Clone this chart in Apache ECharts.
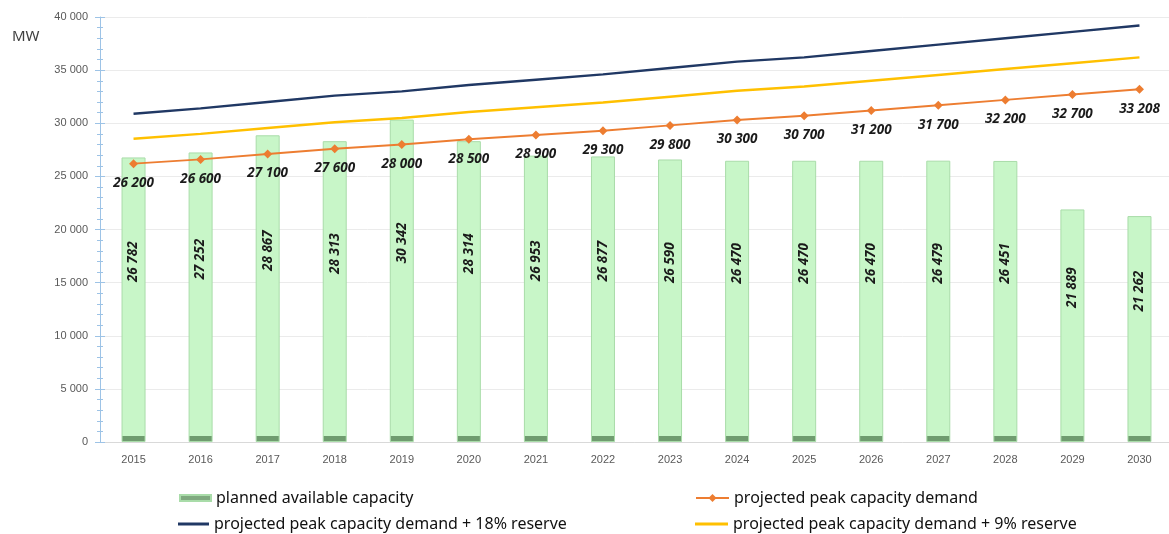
<!DOCTYPE html>
<html>
<head>
<meta charset="utf-8">
<script src="https://cdn.jsdelivr.net/npm/echarts@6/dist/echarts.min.js"></script>
<style>
  html, body { margin: 0; padding: 0; background: #ffffff; }
  #chart { width: 1169px; height: 534px; }
</style>
</head>
<body>
<div id="chart"></div>
<script>
// Years on the category axis
const years = ['2015', '2016', '2017', '2018', '2019', '2020', '2021', '2022',
               '2023', '2024', '2025', '2026', '2027', '2028', '2029', '2030'];

// Planned available capacity, MW
const availableCapacity = [26782, 27252, 28867, 28313, 30342, 28314, 26953, 26877,
                           26590, 26470, 26470, 26470, 26479, 26451, 21889, 21262];

// Projected peak capacity demand, MW
const peakDemand = [26200, 26600, 27100, 27600, 28000, 28500, 28900, 29300,
                    29800, 30300, 30700, 31200, 31700, 32200, 32700, 33208];

// Peak demand with 9% reserve, MW
const demand9 = [28550, 29000, 29550, 30100, 30500, 31050, 31500, 31950,
                 32500, 33050, 33450, 34000, 34550, 35100, 35650, 36200];

// Peak demand with 18% reserve, MW
const demand18 = [30900, 31400, 32000, 32600, 33000, 33600, 34100, 34600,
                  35200, 35800, 36200, 36800, 37400, 38000, 38600, 39200];

// Value axis range and steps
const yMin = 0, yMax = 40000, yStep = 5000;

const names = {
  bars: 'planned available capacity',
  peak: 'projected peak capacity demand',
  r18: 'projected peak capacity demand + 18% reserve',
  r9: 'projected peak capacity demand + 9% reserve'
};

const gridTop = 17, gridHeight = 425, gridLeft = 100, gridWidth = 1073;

// thousands with a space: 26 782
function fmt(v) {
  return String(Math.round(v)).replace(/\B(?=(\d{3})+(?!\d))/g, ' ');
}

const barLight = '#c8f6c8';
const barDark = '#6f9c6f';
const stripPx = 6;

// light green column with a dark band along its foot
const barData = availableCapacity.map(function (v) {
  const h = v / (yMax - yMin) * gridHeight;
  const cut = Math.max(0, 1 - stripPx / h);
  return {
    value: v,
    itemStyle: {
      color: new echarts.graphic.LinearGradient(0, 0, 0, 1, [
        { offset: 0, color: barLight },
        { offset: cut, color: barLight },
        { offset: cut, color: barDark },
        { offset: 1, color: barDark }
      ])
    }
  };
});

const legendText = { fontFamily: 'Noto Sans', fontSize: 16, color: '#111111' };
const valueFont = {
  fontFamily: 'Open Sans', fontSize: 13.5, fontWeight: 'bold', fontStyle: 'italic',
  color: '#1a1a1a'
};

const chart = echarts.init(document.getElementById('chart'), null, { renderer: 'canvas' });

chart.setOption({
  backgroundColor: '#ffffff',
  animation: false,
  grid: {
    left: gridLeft, top: gridTop, width: gridWidth, height: gridHeight,
    containLabel: false, outerBoundsMode: 'none'
  },
  xAxis: {
    type: 'category',
    data: years,
    axisLine: { lineStyle: { color: '#d9d9d9', width: 1 } },
    axisTick: { show: false },
    axisLabel: { color: '#595959', fontFamily: 'Liberation Sans', fontSize: 11, margin: 12 }
  },
  yAxis: [{
    type: 'value',
    min: yMin, max: yMax, interval: yStep,
    axisLine: { show: true, lineStyle: { color: '#9dc3e6', width: 1 } },
    axisTick: { show: true, length: 5, lineStyle: { color: '#9dc3e6' } },
    minorTick: { show: true, splitNumber: 5, length: 3, lineStyle: { color: '#9dc3e6' } },
    axisLabel: {
      color: '#595959', fontFamily: 'Liberation Sans', fontSize: 11, margin: 12,
      formatter: fmt
    },
    splitLine: { show: true, lineStyle: { color: '#ebebeb', width: 1 } }
  }, {
    // same scale again, drawing the inner half of the tick marks
    type: 'value',
    position: 'left',
    min: yMin, max: yMax, interval: yStep,
    axisLine: { show: false },
    axisTick: { show: true, inside: true, length: 5, lineStyle: { color: '#9dc3e6' } },
    minorTick: { show: true, splitNumber: 5, length: 3, lineStyle: { color: '#9dc3e6' } },
    axisLabel: { show: false },
    splitLine: { show: false }
  }],
  legend: [{
    left: 174, top: 485, itemWidth: 31, itemHeight: 6, textStyle: legendText,
    data: [{ name: names.bars, icon: 'rect', itemStyle: { color: '#7fa97f' } }]
  }, {
    left: 173, top: 511, itemWidth: 31, itemHeight: 3, textStyle: legendText,
    data: [{ name: names.r18, icon: 'rect' }]
  }, {
    left: 690, top: 485, itemWidth: 33, itemHeight: 10, textStyle: legendText,
    data: [names.peak]
  }, {
    left: 690, top: 511, itemWidth: 33, itemHeight: 3, textStyle: legendText,
    data: [{ name: names.r9, icon: 'rect' }]
  }],
  graphic: [{
    type: 'text',
    left: 12, top: 29,
    style: { text: 'MW', fill: '#404040', font: '15px "Noto Sans"' }
  }],
  series: [{
    name: names.bars,
    type: 'bar',
    data: barData,
    barWidth: 24,
    z: 2,
    itemStyle: { borderColor: '#a9dca9', borderWidth: 1 },
    label: Object.assign({
      show: true,
      position: 'inside',
      rotate: 90,
      offset: [38, 0],
      formatter: function (p) { return fmt(p.value); }
    }, valueFont)
  }, {
    name: names.r18,
    type: 'line',
    data: demand18,
    symbol: 'none',
    z: 4,
    lineStyle: { color: '#203864', width: 2.5 },
    itemStyle: { color: '#203864' }
  }, {
    name: names.r9,
    type: 'line',
    data: demand9,
    symbol: 'none',
    z: 4,
    lineStyle: { color: '#ffc000', width: 2.5 },
    itemStyle: { color: '#ffc000' }
  }, {
    name: names.peak,
    type: 'line',
    data: peakDemand,
    symbol: 'diamond',
    symbolSize: 9,
    z: 5,
    lineStyle: { color: '#ed7d31', width: 2 },
    itemStyle: { color: '#ed7d31' },
    label: Object.assign({
      show: true,
      position: 'bottom',
      distance: 8,
      formatter: function (p) { return fmt(p.value); }
    }, valueFont)
  }]
});
</script>
</body>
</html>
